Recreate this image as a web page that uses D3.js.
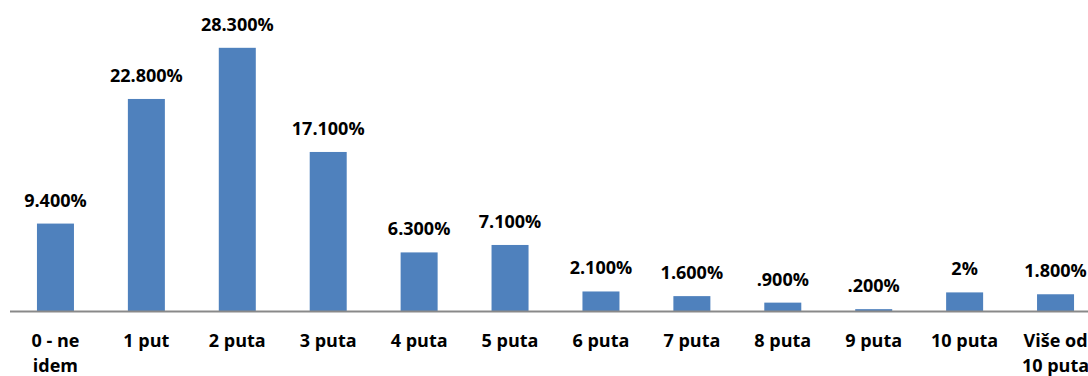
<!DOCTYPE html>
<html><head><meta charset="utf-8">
<script src="https://cdn.jsdelivr.net/npm/d3@7"></script>
<style>body{margin:0;background:#fff}svg{display:block}</style>
</head><body>
<svg id="c" width="1088" height="376"></svg>
<script>
const categories = ["0 - ne idem","1 put","2 puta","3 puta","4 puta","5 puta","6 puta","7 puta","8 puta","9 puta","10 puta","Više od 10 puta"];
const values = [9.4,22.8,28.3,17.1,6.3,7.1,2.1,1.6,0.9,0.2,2.0,1.8];
const valueLabels = ["9.400%","22.800%","28.300%","17.100%","6.300%","7.100%","2.100%","1.600%",".900%",".200%","2%","1.800%"];

const svg = d3.select("#c");
const font = "'Open Sans', sans-serif";
const x = d3.scaleBand().domain(categories).range([10,1101]).paddingInner(0.593).paddingOuter(0.2965);
const y = d3.scaleLinear().domain([0,30]).range([311,32]);

svg.selectAll("rect.bar").data(values).join("rect")
  .attr("class","bar")
  .attr("x",(d,i)=>x(categories[i]))
  .attr("width",x.bandwidth())
  .attr("y",d=>y(d))
  .attr("height",d=>y(0)-y(d))
  .attr("fill","#4f81bd");

svg.append("line").attr("x1",10).attr("x2",1088).attr("y1",y(0)+0.5).attr("y2",y(0)+0.5)
  .attr("stroke","#898989").attr("stroke-width",2);

svg.selectAll("text.val").data(values).join("text")
  .attr("class","val")
  .attr("x",(d,i)=>x(categories[i])+x.bandwidth()/2)
  .attr("y",d=>y(d)-17)
  .attr("text-anchor","middle")
  .attr("font-family",font).attr("font-weight","bold").attr("font-size",18)
  .attr("fill","#000")
  .text((d,i)=>valueLabels[i]);

function wrap(textSel, width){
  textSel.each(function(){
    const t = d3.select(this);
    const words = t.text().split(/\s+/);
    const xx = t.attr("x");
    t.text(null);
    let line = [], lineNo = 0;
    let tspan = t.append("tspan").attr("x",xx).attr("dy",0);
    words.forEach(w=>{
      line.push(w);
      tspan.text(line.join(" "));
      if (tspan.node().getComputedTextLength() > width && line.length>1){
        line.pop(); tspan.text(line.join(" "));
        line=[w]; lineNo++;
        tspan = t.append("tspan").attr("x",xx).attr("dy",25).text(w);
      }
    });
  });
}

svg.selectAll("text.cat").data(categories).join("text")
  .attr("class","cat")
  .attr("x",d=>x(d)+x.bandwidth()/2)
  .attr("y",y(0)+36)
  .attr("text-anchor","middle")
  .attr("font-family",font).attr("font-weight","bold").attr("font-size",18)
  .attr("fill","#000")
  .text(d=>d)
  .call(wrap, 82);
</script>
</body></html>
